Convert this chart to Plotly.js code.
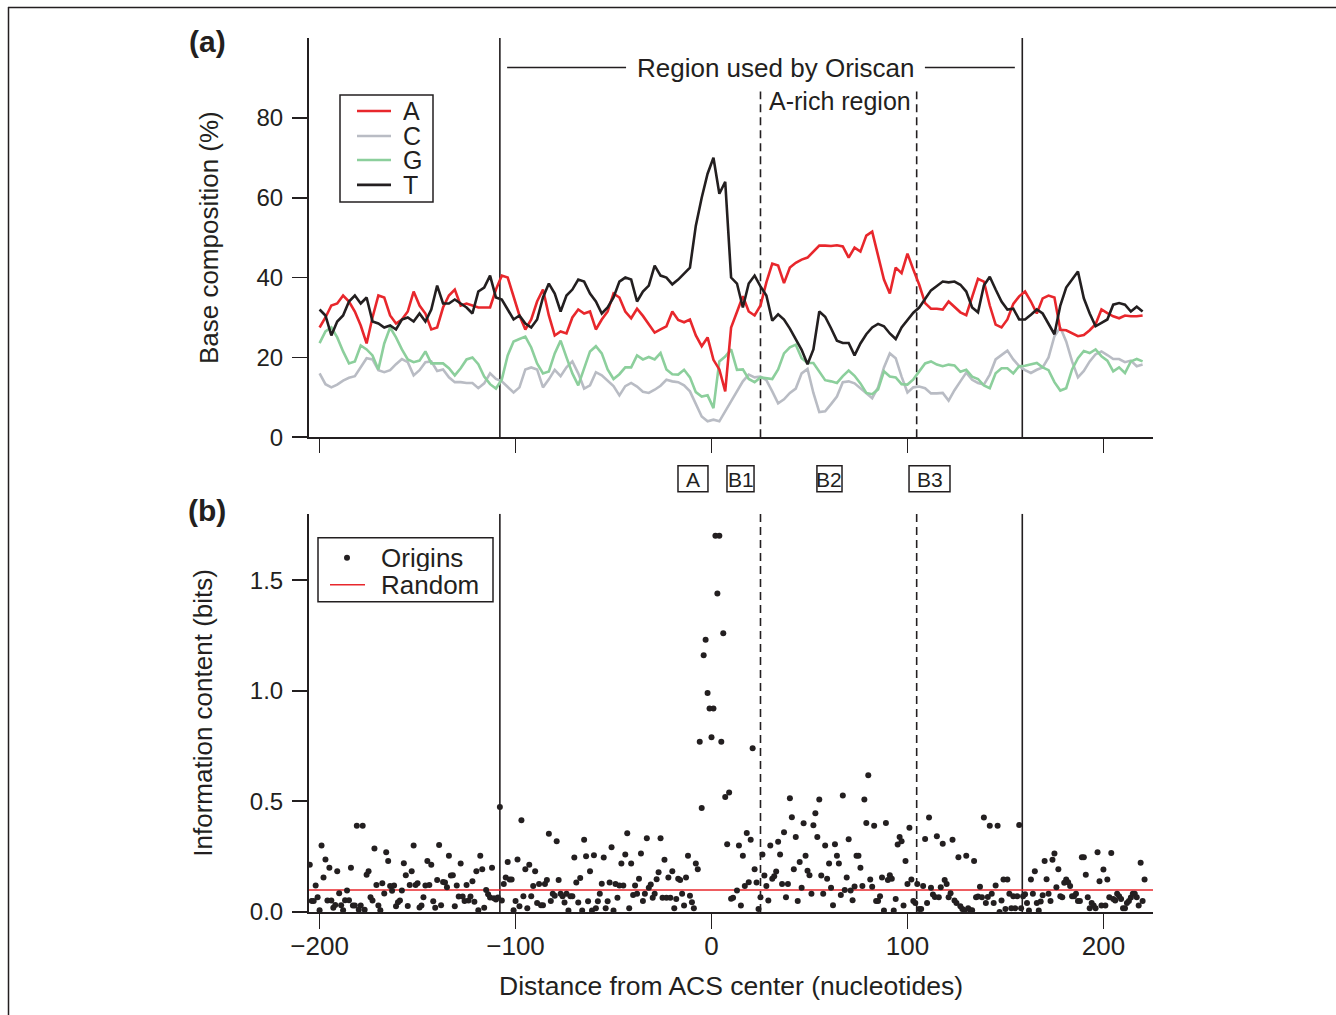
<!DOCTYPE html>
<html>
<head>
<meta charset="utf-8">
<script src="https://cdn.plot.ly/plotly-3.0.1.min.js"></script>
<style>
  html, body { margin: 0; padding: 0; background: #ffffff; }
  #chart { width: 1336px; height: 1015px; }
</style>
</head>
<body>
<div id="chart"></div>
<script>
// ---------- (a) base composition around the ACS, sampled every 3 nt from -200 ----------
const compStart = -200;
const compStep = 3;

const baseA = [27.5, 30, 33, 33.5, 35.5, 34, 31.5, 28, 23.5, 30, 35.5, 35, 30.5, 28.5, 29.5, 31.5, 36.5, 33, 31, 27,
  27.5, 32.5, 35.5, 37, 33, 33.5, 33, 32.5, 32.5, 32.5, 37, 40.5, 40, 35.5, 30.5, 27, 29.5, 34, 37, 30.5,
  25.5, 26.5, 26, 30, 32, 31, 31.5, 27, 29.5, 31.5, 36, 35, 31.5,
  29.8, 32.2, 30.4, 28.3, 26.2, 27, 27.8, 31.5, 29.4, 28.8, 29.5, 25.5, 22.8, 25, 19.4, 17, 11.5, 27.5, 31.3, 35.3,
  31.5, 30.5, 33, 38.8, 43.5, 43, 38.6, 42.5, 43.7, 44.5, 45, 46.5, 48, 48, 47.9, 48.1, 47.8, 45, 47.5, 46.5,
  50.5, 51.5, 45.5, 39.5, 36, 42.5, 41.1, 46,
  42, 38.2, 33.6, 32.2, 32.2, 32, 34, 32.6, 31.3, 30.6, 35, 39.7, 39, 33, 28.2, 27.5, 29.5, 33.4, 35.3, 36.5,
  34, 31, 34.8, 35.5, 35, 26.9, 26.8, 26.1, 25.3, 25.6, 26.8, 28.3, 32, 31.1, 30.3, 29.8, 30.5, 30.3, 30.3, 30.5];

const baseC = [16, 13.3, 12.5, 13.2, 14.2, 14.9, 15.3, 17.5, 19.8, 19.5, 16.8, 16.3, 16.8, 18.3, 19.6, 18.8, 15.5, 16.8, 18.8, 19,
  16.6, 17, 15, 13.8, 13.8, 13.6, 13.6, 12.3, 13.5, 16, 14.6, 14, 12.7, 11.2, 12.5, 17, 17.5, 17, 12.5, 14.5,
  16.9, 15.3, 17.5, 19, 16, 12.2, 13, 16.3, 15.5, 14.2, 12.8, 10.5, 12.8,
  13.6, 12.7, 11.4, 11.1, 11.9, 12.9, 14.4, 14, 13.8, 13, 11.5, 8.3, 5.2, 4, 4.4, 4, 6.5, 9, 11.2, 14,
  15.7, 15, 15.2, 14.3, 11.5, 8.5, 9.5, 11.1, 12.2, 16, 17.1, 11.1, 6.3, 6.5, 8.3, 10.2, 13.8, 14, 13.5, 12.3,
  11.1, 9.8, 12.5, 17.5, 21, 19.8, 15.2, 11.2,
  12.5, 12.7, 12.3, 11, 11, 11.1, 9.2, 11.8, 14, 16.2, 14.4, 13.6, 13.2, 15.7, 19.5, 20.5, 21.7, 19.5, 17.8, 16.8,
  16.1, 16.9, 17.5, 20, 25.3, 27.5, 24, 19, 15, 16.6, 19, 20.8, 21.5, 20.6, 19.6, 19.6, 18.8, 19.2, 17.8, 18.2];

const baseG = [23.6, 26.5, 27.5, 25, 21.5, 18.5, 19, 23, 22, 20.5, 17, 23.5, 27.5, 25, 22, 19.5, 18.8, 19.2, 21.5, 18.5,
  18.5, 18.5, 17.3, 15.5, 17.3, 19.5, 20, 18.3, 15.2, 13.3, 12.2, 14.5, 20.5, 24, 24.6, 25.2, 22.5, 18.5, 16, 16.5,
  21, 24.2, 20, 16, 13, 17, 21.5, 22.8, 21, 17, 14.6, 15.8, 17.5,
  17.5, 20.5, 19.5, 20.1, 19.5, 21.1, 17, 15.8, 15.7, 16.9, 15, 11.3, 10.2, 10.5, 7.3, 19, 20.2, 22, 16.9, 17,
  14.6, 13.8, 15, 14.8, 14.6, 17, 21, 22.5, 23.2, 19.8, 18.6, 18.6, 16.6, 14.3, 14, 13.6, 15.3, 16.7, 15.4, 13.5,
  11.1, 10.8, 12, 16.5, 15.2, 15, 13.3, 13.2,
  14.5, 16.5, 18.5, 19, 18.2, 17.8, 18.2, 18, 16.4, 16.9, 15.2, 14.6, 13, 12.3, 16, 17.3, 17.3, 16, 17.8, 17.9,
  18.2, 18.6, 17.5, 16.8, 13.8, 11.7, 12.3, 17, 19.8, 21.6, 21.1, 22, 20.3, 19.2, 16.5, 17.5, 16.1, 19, 19.6, 19];

const baseT = [32, 30.5, 25.5, 29, 30.5, 34, 35.5, 33.5, 35, 29, 28.5, 27.5, 28, 27, 29.5, 30, 29, 31, 29, 32,
  38, 33.5, 33.5, 34.5, 33.5, 32.5, 31, 36.5, 37.5, 40.5, 35, 34.5, 32, 29.5, 30.5, 28.5, 27.5, 29.5, 35, 38.5,
  36, 31.5, 35.5, 37, 39.5, 39, 36, 34, 31, 32.5, 35, 39, 40,
  39.5, 34, 36.5, 38, 43, 40.5, 40, 38.3, 39.5, 41, 42.5, 53, 60, 66, 70, 61, 64, 40, 38.5, 32.5,
  38.5, 40.5, 37.8, 35.5, 29.2, 30.8, 29.5, 27.2, 24.5, 21.9, 18.3, 22, 31.5, 30.2, 27.3, 24.2, 23.6, 23.6, 20.5, 23.5,
  25.8, 27.5, 28.4, 27.8, 26, 24.6, 27.5, 29.5,
  31.2, 32.5, 34.5, 36.8, 37.9, 39, 38.8, 39, 38.2, 36.5, 32.5, 31.3, 38, 40.2, 37, 34, 32, 32.2, 29.5, 29.5,
  30.7, 32, 31, 28.5, 25.8, 33, 37.5, 39.5, 41.5, 34.8, 31, 27.8, 28.6, 29.5, 33.2, 33.6, 33.2, 31.5, 32.7, 31.5];

const baseNames = ['A', 'C', 'G', 'T'];
const baseSeries = [baseA, baseC, baseG, baseT];
const baseColors = ['#e8272c', '#b9bcc4', '#8ccf9c', '#231f20'];
const compX = baseA.map((_, i) => compStart + i * compStep);

// ---------- (b) information content per position, one value per nt from -205 ----------
const infoStart = -205;
const infoBits = [
  // -205 .. -99
  0.214, 0.05, 0.05, 0.12, 0.067, 0.008, 0.30, 0.156, 0.237, 0.052,
  0.20, 0.052, 0.019, 0.032, 0.184, 0.085, 0.031, 0.008, 0.053, 0.097,
  0.053, 0.20, 0.029, 0.029, 0.39, 0.01, 0.029, 0.39, 0.01, 0.168,
  0.184, 0.067, 0.052, 0.287, 0.122, 0.029, 0.008, 0.13, 0.084, 0.27,
  0.23, 0.118, 0.096, 0.12, 0.026, 0.044, 0.052, 0.097, 0.22, 0.166,
  0.027, 0.122, 0.184, 0.30, 0.122, 0.13, 0.02, 0.029, 0.067, 0.12,
  0.23, 0.122, 0.213, 0.049, 0.019, 0.145, 0.303, 0.031, 0.136, 0.133,
  0.112, 0.254, 0.165, 0.166, 0.026, 0.12, 0.07, 0.219, 0.07, 0.05,
  0.122, 0.052, 0.07, 0.139, 0.046, 0.184, 0.008, 0.254, 0.193, 0.019,
  0.10, 0.08, 0.065, 0.20, 0.062, 0.056, 0.065, 0.475, 0.052, 0.126,
  0.156, 0.226, 0.147, 0.147, 0.008, 0.05, 0.237,
  // -98 .. -7
  0.026, 0.415, 0.071, 0.193, 0.017, 0.213, 0.071, 0.118, 0.184, 0.041,
  0.126, 0.031, 0.031, 0.126, 0.145, 0.354, 0.05, 0.083, 0.073, 0.32,
  0.145, 0.083, 0.071, 0.043, 0.083, 0.007, 0.071, 0.071, 0.246, 0.133,
  0.043, 0.154, 0.007, 0.326, 0.252, 0.049, 0.184, 0.007, 0.257, 0.017,
  0.049, 0.082, 0.128, 0.246, 0.017, 0.049, 0.133, 0.293, 0.007, 0.126,
  0.064, 0.12, 0.219, 0.12, 0.26, 0.356, 0.017, 0.219, 0.077, 0.12,
  0.082, 0.15, 0.264, 0.05, 0.082, 0.333, 0.11, 0.124, 0.064, 0.082,
  0.148, 0.18, 0.333, 0.064, 0.236, 0.064, 0.156, 0.064, 0.184, 0.017,
  0.059, 0.15, 0.145, 0.083, 0.029, 0.156, 0.254, 0.074, 0.044, 0.017,
  0.219, 0.193,
  // -6 .. 10
  0.77, 0.47, 1.16, 1.23, 0.99, 0.92, 0.79, 0.92, 1.70, 1.44,
  1.70, 0.77, 1.26, 0.52, 0.306, 0.54, 0.06,
  // 11 .. 116
  0.064, null, 0.097, 0.30, 0.029, 0.254, 0.117, 0.357, 0.135, 0.326,
  0.74, 0.193, 0.133, 0.014, 0.067, 0.26, 0.165, 0.118, 0.052, 0.30,
  0.15, 0.162, 0.183, 0.318, 0.26, 0.126, 0.36, 0.067, 0.126, 0.514,
  0.428, 0.193, 0.339, 0.05, 0.226, 0.11, 0.401, 0.254, 0.186, 0.166,
  0.083, 0.392, 0.446, 0.339, 0.509, 0.165, 0.082, 0.30, 0.15, 0.219,
  0.11, 0.031, 0.306, 0.254, 0.219, 0.077, 0.527, 0.10, 0.156, 0.329,
  0.097, 0.053, 0.115, 0.254, 0.254, 0.20, 0.118, 0.509, 0.402, 0.618,
  0.147, 0.114, 0.39, 0.05, 0.05, 0.071, 0.156, 0.007, 0.402, 0.145,
  0.166, 0.15, 0.007, 0.059, 0.305, 0.339, 0.32, 0.029, 0.23, 0.126,
  0.381, 0.147, 0.05, 0.041, 0.126, 0.014, 0.014, 0.118, 0.33, 0.041,
  0.427, 0.11, 0.079, 0.068, 0.342, 0.067,
  // 117 .. 222
  0.112, 0.309, 0.145, 0.126, 0.067, 0.085, 0.326, 0.052, 0.041,
  0.247, 0.026, 0.014, 0.008, 0.254, 0.017, 0.008, 0.008, 0.23, 0.067,
  0.07, 0.114, 0.067, 0.427, 0.041, 0.068, 0.39, 0.082, 0.041, 0.12,
  0.39, 0.0, 0.052, 0.147, 0.014, 0.147, 0.082, 0.017, 0.071, 0.017,
  0.071, 0.393, 0.017, 0.071, 0.08, 0.041, 0.007, 0.147, 0.083, 0.184,
  0.041, 0.007, 0.047, 0.076, 0.23, 0.148, 0.083, 0.05, 0.236, 0.264,
  0.112, 0.193, 0.071, 0.067, 0.132, 0.147, 0.135, 0.118, 0.071, 0.071,
  0.083, 0.05, 0.05, 0.247, 0.247, 0.168, 0.067, 0.017, 0.041, 0.029,
  0.017, 0.27, 0.139, 0.029, 0.192, 0.029, 0.147, 0.067, 0.267, 0.059,
  0.052, 0.082, 0.071, 0.059, 0.017, 0.017, 0.041, 0.05, 0.065, 0.082,
  0.082, 0.067, 0.029, 0.223, 0.05, 0.147
];
const infoX = infoBits.map((_, i) => infoStart + i);
const randomBits = 0.1;

// ---------- annotated regions and motif boxes ----------
const oriscanBounds = [-108, 158.6];
const aRichBounds = [25, 104.7];
const motifLabels = ['A', 'B1', 'B2', 'B3'];
const motifStarts = [-17.1, 7.9, 53.8, 100.8];
const motifEnds = [-1.8, 21.7, 66.6, 121.7];

const compTicks = [0, 20, 40, 60, 80];
const infoTicks = [0, 0.5, 1.0, 1.5];
const distTicks = [-200, -100, 0, 100, 200];

// ---------- geometry helpers (figure pixels -> paper fractions) ----------
const W = 1336, H = 1015;
const M = { l: 309, r: 183, t: 38, b: 102.5 };
const plotW = W - M.l - M.r, plotH = H - M.t - M.b;
const px = x => (x - M.l) / plotW;
const py = y => (H - M.b - y) / plotH;

const INK = '#231f20';
const FONT = '"Liberation Sans", Arial, Helvetica, sans-serif';
const xRange = [-205.4, 225.3];

const traces = [];
// draw C and G underneath A and T
[1, 2, 0, 3].forEach(k => {
  traces.push({
    type: 'scatter', mode: 'lines', name: baseNames[k],
    x: compX, y: baseSeries[k], xaxis: 'x', yaxis: 'y',
    line: { color: baseColors[k], width: 2.6 }, hoverinfo: 'skip'
  });
});
traces.push({
  type: 'scatter', mode: 'lines', name: 'Random',
  x: xRange, y: [randomBits, randomBits], xaxis: 'x2', yaxis: 'y2',
  line: { color: '#e8272c', width: 1.5 }, hoverinfo: 'skip'
});
traces.push({
  type: 'scatter', mode: 'markers', name: 'Origins',
  x: infoX, y: infoBits, xaxis: 'x2', yaxis: 'y2',
  marker: { color: INK, size: 6 }, hoverinfo: 'skip'
});

const shapes = [];
const annotations = [];

// region boundaries in both panels
oriscanBounds.forEach(b => {
  shapes.push({ type: 'line', xref: 'x', yref: 'y', x0: b, x1: b, y0: 0, y1: 100, layer: 'below', line: { color: INK, width: 1.6 } });
  shapes.push({ type: 'line', xref: 'x2', yref: 'y2', x0: b, x1: b, y0: 0, y1: 1.8, layer: 'below', line: { color: INK, width: 1.6 } });
});
aRichBounds.forEach(b => {
  shapes.push({ type: 'line', xref: 'x', yref: 'y', x0: b, x1: b, y0: 0, y1: 86.6, layer: 'below', line: { color: INK, width: 1.6, dash: '8px,5px' } });
  shapes.push({ type: 'line', xref: 'x2', yref: 'y2', x0: b, x1: b, y0: 0, y1: 1.8, layer: 'below', line: { color: INK, width: 1.6, dash: '8px,5px' } });
});

// "Region used by Oriscan" bracket
shapes.push({ type: 'line', xref: 'x', yref: 'y', x0: -104.3, x1: -43.6, y0: 92.6, y1: 92.6, line: { color: INK, width: 1.5 } });
shapes.push({ type: 'line', xref: 'x', yref: 'y', x0: 108.9, x1: 154.8, y0: 92.6, y1: 92.6, line: { color: INK, width: 1.5 } });
annotations.push({ xref: 'x', yref: 'y', x: 32.9, y: 92.6, text: 'Region used by Oriscan', showarrow: false,
  xanchor: 'center', yanchor: 'middle', font: { size: 26, color: INK } });
annotations.push({ xref: 'x', yref: 'y', x: 65.5, y: 84.1, text: 'A-rich region', showarrow: false,
  xanchor: 'center', yanchor: 'middle', font: { size: 25, color: INK } });

// motif boxes between the panels
motifLabels.forEach((lab, i) => {
  shapes.push({ type: 'rect', xref: 'x', yref: 'paper', x0: motifStarts[i], x1: motifEnds[i], y0: py(492), y1: py(466),
    line: { color: INK, width: 1.5 }, fillcolor: 'rgba(0,0,0,0)' });
  annotations.push({ xref: 'x', yref: 'paper', x: (motifStarts[i] + motifEnds[i]) / 2, y: py(479.5), text: lab,
    showarrow: false, xanchor: 'center', yanchor: 'middle', font: { size: 21, color: INK } });
});

// panel letters
annotations.push({ xref: 'paper', yref: 'paper', x: px(207), y: py(42), text: '<b>(a)</b>', showarrow: false,
  xanchor: 'center', yanchor: 'middle', font: { size: 30, color: INK } });
annotations.push({ xref: 'paper', yref: 'paper', x: px(207), y: py(511), text: '<b>(b)</b>', showarrow: false,
  xanchor: 'center', yanchor: 'middle', font: { size: 30, color: INK } });

// legend of panel (a): tightly stacked rows, each label in a fixed-height box
shapes.push({ type: 'rect', xref: 'paper', yref: 'paper', x0: px(340), x1: px(433), y0: py(202), y1: py(95),
  line: { color: INK, width: 1.5 }, fillcolor: '#ffffff' });
const legRowsA = [111, 136, 160, 185];
baseNames.forEach((n, i) => {
  shapes.push({ type: 'line', xref: 'paper', yref: 'paper', x0: px(357), x1: px(391), y0: py(legRowsA[i]), y1: py(legRowsA[i]),
    line: { color: baseColors[i], width: 2.6 } });
  annotations.push({ xref: 'paper', yref: 'paper', x: px(402), y: py(legRowsA[i]), text: n, showarrow: false,
    xanchor: 'left', yanchor: 'middle', height: 23, borderpad: 0, valign: 'middle',
    font: { size: 25, color: INK } });
});

// legend of panel (b)
shapes.push({ type: 'rect', xref: 'paper', yref: 'paper', x0: px(318), x1: px(493), y0: py(602), y1: py(538),
  line: { color: INK, width: 1.5 }, fillcolor: '#ffffff' });
shapes.push({ type: 'circle', xref: 'paper', yref: 'paper', x0: px(344), x1: px(350), y0: py(561), y1: py(555),
  line: { color: INK, width: 0 }, fillcolor: INK });
annotations.push({ xref: 'paper', yref: 'paper', x: px(380), y: py(558), text: 'Origins', showarrow: false,
  xanchor: 'left', yanchor: 'middle', height: 26, borderpad: 0, font: { size: 26, color: INK } });
shapes.push({ type: 'line', xref: 'paper', yref: 'paper', x0: px(330), x1: px(365), y0: py(585), y1: py(585),
  line: { color: '#e8272c', width: 1.5 } });
annotations.push({ xref: 'paper', yref: 'paper', x: px(380), y: py(585), text: 'Random', showarrow: false,
  xanchor: 'left', yanchor: 'middle', height: 26, borderpad: 0, font: { size: 26, color: INK } });

// figure frame along the top and left edges
shapes.push({ type: 'line', xref: 'paper', yref: 'paper', x0: px(8), x1: px(1345), y0: py(7.5), y1: py(7.5), line: { color: INK, width: 1.5 } });
shapes.push({ type: 'line', xref: 'paper', yref: 'paper', x0: px(8.5), x1: px(8.5), y0: py(7), y1: py(1030), line: { color: INK, width: 1.5 } });

const axisCommon = {
  showgrid: false, zeroline: false, showline: true, linecolor: INK, linewidth: 2,
  ticks: 'outside', tickcolor: INK, tickwidth: 1.8
};

const layout = {
  width: W, height: H,
  margin: M,
  paper_bgcolor: '#ffffff', plot_bgcolor: '#ffffff',
  showlegend: false,
  font: { family: FONT, size: 24, color: INK },
  xaxis: Object.assign({}, axisCommon, {
    domain: [0, 1], anchor: 'y', range: xRange, tickvals: distTicks, showticklabels: false, ticklen: 14
  }),
  yaxis: Object.assign({}, axisCommon, {
    domain: [py(437.5), 1], anchor: 'x', range: [0, 100], tickvals: compTicks, ticklen: 15,
    tickfont: { size: 24 }, ticklabelstandoff: 4,
    title: { text: 'Base composition (%)', font: { size: 26 }, standoff: 30 }
  }),
  xaxis2: Object.assign({}, axisCommon, {
    domain: [0, 1], anchor: 'y2', range: xRange, tickvals: distTicks, ticklen: 15,
    tickfont: { size: 26 }, ticklabelstandoff: -5,
    title: { text: 'Distance from ACS center (nucleotides)', font: { size: 26.5 }, standoff: 16 }
  }),
  yaxis2: Object.assign({}, axisCommon, {
    domain: [0, py(514)], anchor: 'x2', range: [0, 1.8], tickvals: infoTicks, tickformat: '.1f', ticklen: 15,
    tickfont: { size: 24 }, ticklabelstandoff: 4,
    title: { text: 'Information content (bits)', font: { size: 26 }, standoff: 30 }
  }),
  shapes: shapes,
  annotations: annotations
};

Plotly.newPlot('chart', traces, layout, { displayModeBar: false, staticPlot: true });
</script>
</body>
</html>
